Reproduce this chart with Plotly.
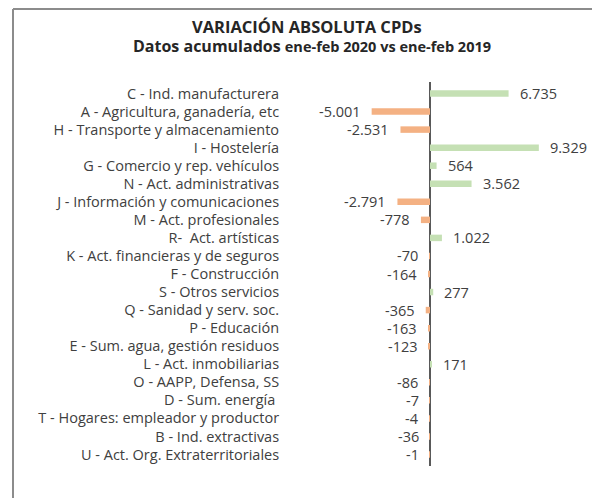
import plotly.graph_objects as go

categories = [
    "C - Ind. manufacturera",
    "A - Agricultura, ganadería, etc",
    "H - Transporte y almacenamiento",
    "I - Hostelería",
    "G - Comercio y rep. vehículos",
    "N - Act. administrativas",
    "J - Información y comunicaciones",
    "M - Act. profesionales",
    "R-  Act. artísticas",
    "K - Act. financieras y de seguros",
    "F - Construcción",
    "S - Otros servicios",
    "Q - Sanidad y serv. soc.",
    "P - Educación",
    "E - Sum. agua, gestión residuos",
    "L - Act. inmobiliarias",
    "O - AAPP, Defensa, SS",
    "D - Sum. energía ",
    "T - Hogares: empleador y productor",
    "B - Ind. extractivas",
    "U - Act. Org. Extraterritoriales",
]
values = [6735, -5001, -2531, 9329, 564, 3562, -2791, -778, 1022, -70,
          -164, 277, -365, -163, -123, 171, -86, -7, -4, -36, -1]

GREEN = "#C5E0B4"
ORANGE = "#F4B183"
TEXT = "#404040"
FONT = "Open Sans"

W, H = 600, 498
OFF = 8  # page body margin offset of the figure in the screenshot
# target screenshot pixel positions of the plot area
PL, PR, PT, PB = 290, 570, 82, 466
ML, MT = PL - OFF, PT - OFF
MR, MB = W - (PR - OFF), H - (PB - OFF)
pw, ph = W - ML - MR, H - MT - MB


def px_x(p):
    return (p - OFF - ML) / pw


def px_y(p):
    return (H - MB - (p - OFF)) / ph


def fmt(v):
    return f"{v:,}".replace(",", ".")


colors = [GREEN if v >= 0 else ORANGE for v in values]

fig = go.Figure(go.Bar(
    x=values, y=categories, orientation="h",
    marker=dict(color=colors, line=dict(width=0)),
    width=0.36, hoverinfo="x+y",
))

annotations = []
for c, v in zip(categories, values):
    annotations.append(dict(
        x=v, y=c, xref="x", yref="y", text=fmt(v), showarrow=False,
        xanchor="left" if v >= 0 else "right",
        xshift=9 if v >= 0 else -9,
        font=dict(family=FONT, size=14.5, color=TEXT),
    ))

annotations.append(dict(
    x=px_x(307), y=px_y(27), xref="paper", yref="paper",
    text="<b>VARIACIÓN ABSOLUTA CPDs</b>", showarrow=False,
    xanchor="center", yanchor="middle",
    font=dict(family=FONT, size=16.5, color="#262626"),
))
annotations.append(dict(
    x=px_x(312), y=px_y(46), xref="paper", yref="paper",
    text="<b>Datos acumulados </b><b><span style='font-size:14.5px'>ene-feb 2020 vs ene-feb 2019</span></b>",
    showarrow=False, xanchor="center", yanchor="middle",
    font=dict(family=FONT, size=16, color="#262626"),
))

shapes = [
    dict(type="line", xref="paper", yref="paper",
         x0=px_x(13), x1=px_x(610), y0=px_y(9), y1=px_y(9),
         line=dict(color="#8c8c8c", width=2)),
    dict(type="line", xref="paper", yref="paper",
         x0=px_x(13), x1=px_x(13), y0=px_y(9), y1=px_y(510),
         line=dict(color="#8c8c8c", width=2)),
]

fig.update_layout(
    width=W, height=H,
    margin=dict(l=ML, r=MR, t=MT, b=MB, pad=0, autoexpand=False),
    paper_bgcolor="white", plot_bgcolor="white",
    showlegend=False,
    annotations=annotations, shapes=shapes,
    xaxis=dict(range=[-12000, 12000], showticklabels=False, showgrid=False,
               zeroline=True, zerolinecolor="#595959", zerolinewidth=1.5,
               showline=False, ticks="", automargin=False),
    yaxis=dict(categoryorder="array", categoryarray=categories,
               autorange="reversed", showgrid=False, zeroline=False,
               showline=False, ticks="outside", ticklen=7, tickcolor="rgba(0,0,0,0)",
               automargin=False,
               tickfont=dict(family=FONT, size=14.5, color=TEXT)),
    font=dict(family=FONT, color=TEXT),
)

fig.write_html("out.html")
